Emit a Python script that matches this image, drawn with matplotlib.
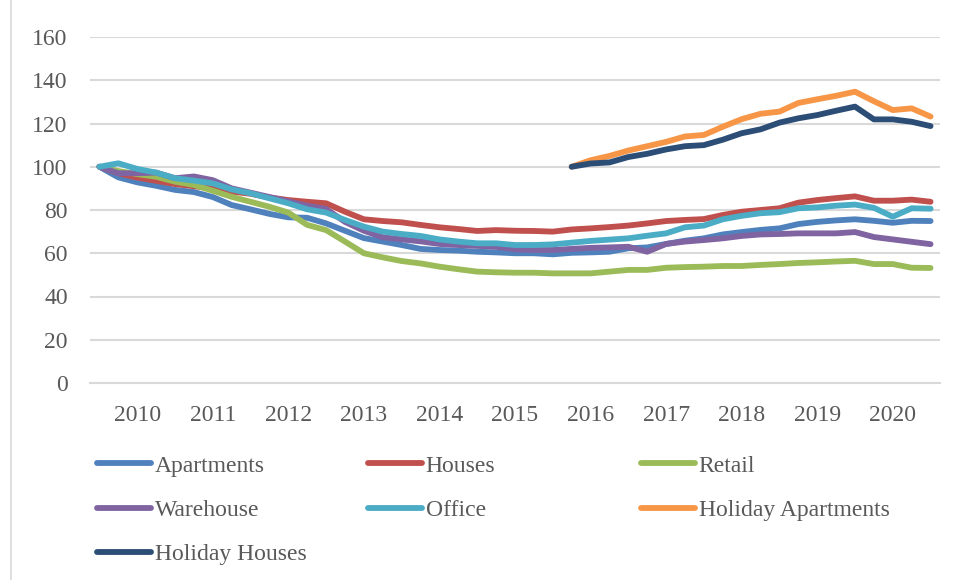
import numpy as np
import matplotlib
matplotlib.use("Agg")
import matplotlib.pyplot as plt
from matplotlib.lines import Line2D

plt.rcParams['font.family'] = ['Liberation Serif', 'DejaVu Serif']

# ---- data (quarterly index, 45 quarters) ----
year_labels = ["2010", "2011", "2012", "2013", "2014", "2015", "2016", "2017", "2018", "2019", "2020"]

apartments = [100, 95.1, 92.8, 91.2, 89.3, 88.3, 86, 82.3, 80.3, 78.2, 76.6, 76.4, 73.8, 70.4, 67,
              65.4, 63.8, 62, 61.5, 61.2, 60.7, 60.4, 60, 60, 59.5, 60.2, 60.4, 60.7, 62.3, 62.7,
              64.3, 65.8, 66.9, 68.7, 69.8, 70.8, 71.5, 73.5, 74.5, 75.2, 75.7, 75, 74.1, 75, 74.9]
houses = [100, 97, 95, 93.5, 92, 91, 90, 88.5, 87.5, 85.8, 84.6, 83.8, 83.1, 79.2, 75.7,
          74.9, 74.3, 73.1, 72, 71.2, 70.3, 70.7, 70.4, 70.3, 70, 71, 71.5, 72.1, 72.8, 73.8,
          74.9, 75.4, 75.8, 77.7, 79.2, 80, 80.8, 83.4, 84.6, 85.5, 86.3, 84.3, 84.3, 84.8, 83.8]
retail = [100, 98, 96.6, 95.4, 93.1, 91.6, 88.9, 86.1, 83.8, 81.5, 78.8, 73.1, 70.7, 65.4, 60,
          58.1, 56.4, 55.3, 53.8, 52.6, 51.5, 51.2, 51, 51, 50.7, 50.7, 50.7, 51.5, 52.3, 52.3,
          53.3, 53.6, 53.8, 54.1, 54.1, 54.6, 55, 55.5, 55.8, 56.2, 56.5, 55, 55, 53.3, 53.2]
warehouse = [100, 97, 97, 97.3, 94.7, 95.5, 93.8, 90, 88, 86, 84, 82, 80.5, 74.5, 70.4,
             67.4, 66.4, 65.5, 64.3, 63.8, 63.4, 63, 61.8, 61.5, 61.5, 62, 62.5, 62.7, 63, 60.7,
             64.3, 65.4, 66.1, 66.9, 68, 68.7, 68.9, 69.2, 69.2, 69.2, 69.8, 67.5, 66.4, 65.3, 64.2]
office = [100, 101.6, 99, 97.3, 94.7, 93.6, 92.3, 89.5, 87.7, 85.4, 83.1, 80.3, 78.8, 75.4, 72.3,
          70, 68.9, 68, 66.4, 65.4, 64.6, 64.6, 63.8, 63.8, 64.1, 64.9, 65.7, 66.3, 66.9, 68.1,
          69.2, 72, 72.8, 75.7, 77.3, 78.5, 79, 80.8, 81.2, 82, 82.5, 81, 76.9, 80.8, 80.6]
# holiday series start at quarter index 25
holiday_apartments = [100, 103, 105, 107.5, 109.5, 111.5, 114, 114.7, 118.5, 122,
                      124.5, 125.5, 129.5, 131.2, 132.8, 134.7, 130.3, 126.2, 127, 123.2]
holiday_houses = [100, 101.5, 102, 104.5, 106, 108, 109.5, 110, 112.5, 115.5,
                  117.3, 120.4, 122.4, 123.9, 125.9, 127.8, 121.9, 121.9, 120.8, 118.8]
holiday_start = 25

names = ["Apartments", "Houses", "Retail", "Warehouse", "Office",
         "Holiday Apartments", "Holiday Houses"]
colors = ["#4F81BD", "#C0504D", "#9BBB59", "#8064A2", "#4BACC6", "#F79646", "#2C4D75"]

W, H = 977, 580
fig = plt.figure(figsize=(W / 100, H / 100), dpi=100)
ax = fig.add_axes([90 / W, 1 - 383 / H, 850 / W, 346 / H])

series = [apartments, houses, retail, warehouse, office, holiday_apartments, holiday_houses]
handles = []
for k, (vals, name, col) in enumerate(zip(series, names, colors)):
    start = holiday_start if k >= 5 else 0
    x = np.arange(start, start + len(vals))
    ln, = ax.plot(x, vals, color=col, lw=4.2, solid_capstyle='round',
                  solid_joinstyle='round', label=name, zorder=3 + k)
    handles.append(ln)

ax.set_xlim(-0.5, 44.5)
ax.set_ylim(0, 160)
ax.set_yticks(np.arange(0, 161, 20))
ax.set_xticks(np.arange(2, 45, 4))
ax.set_xticklabels(year_labels)
ax.grid(axis='y', color='#D9D9D9', lw=1.5)
ax.set_axisbelow(True)
for s in ['top', 'right', 'left']:
    ax.spines[s].set_visible(False)
ax.spines['bottom'].set_color('#D9D9D9')
ax.spines['bottom'].set_linewidth(1.5)
ax.tick_params(axis='both', length=0, labelsize=17, colors='#595959')
ax.tick_params(axis='y', pad=16)
ax.tick_params(axis='x', pad=16)

# legend: three columns placed like the reference
cols = [[0, 3, 6], [1, 4], [2, 5]]
xs = [97, 368, 641]
for ci, idx in enumerate(cols):
    leg = fig.legend([handles[i] for i in idx], [names[i] for i in idx],
                     loc='upper left', bbox_to_anchor=(xs[ci] / W, 1 - 455 / H),
                     frameon=False, fontsize=17, labelcolor='#595959',
                     handlelength=2.3, handletextpad=0.15, borderpad=0,
                     borderaxespad=0, labelspacing=0.97)

fig.add_artist(Line2D([11 / W, 11 / W], [0, 1], color='#D9D9D9', lw=1.2))

fig.savefig("out.png", dpi=100)
